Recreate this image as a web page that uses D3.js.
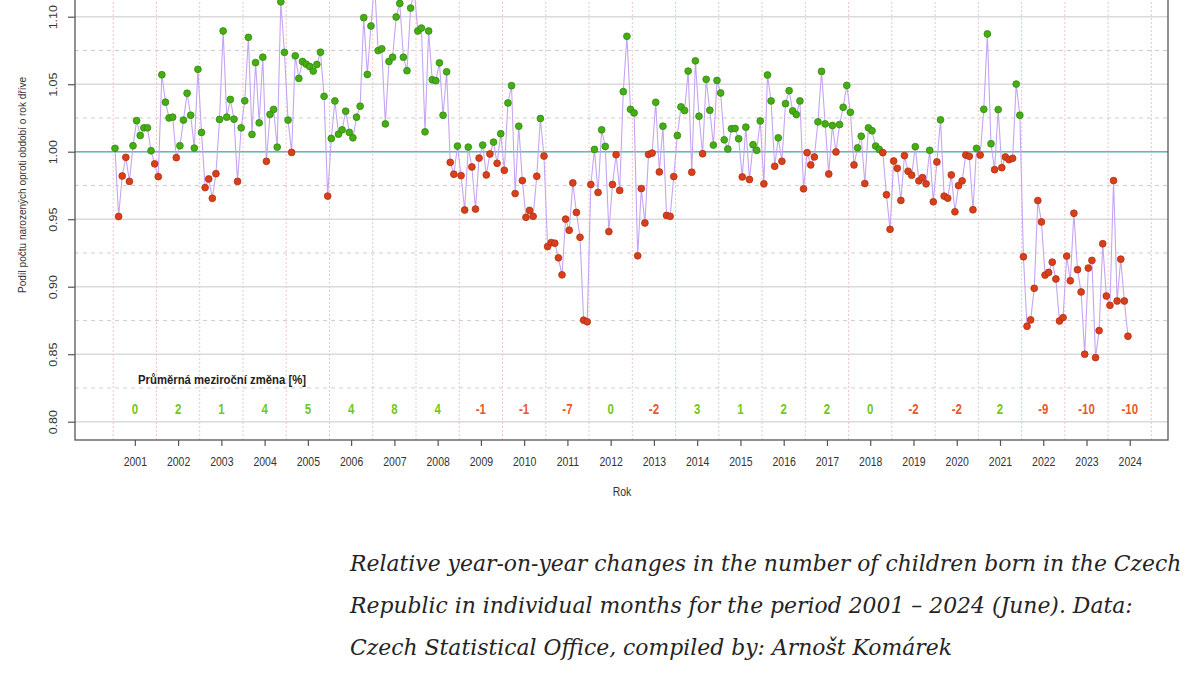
<!DOCTYPE html>
<html>
<head>
<meta charset="utf-8">
<script src="https://cdn.jsdelivr.net/npm/d3@7"></script>
<style>
  body { margin: 0; background: #fff; }
</style>
</head>
<body>
<div id="chart"></div>
<script>
// monthly ratio of births vs. same month a year earlier, Jan 2001 - Jun 2024
var startYear = 2001;
var years = d3.range(2001, 2025);
var ratio = [
  1.0025, 0.952, 0.982, 0.9958, 0.978, 1.0044, 1.023, 1.012, 1.0177, 1.0177, 1.0007, 0.991,    // 2001
  0.9815, 1.057, 1.0367, 1.025, 1.0256, 0.9956, 1.0044, 1.0234, 1.0433, 1.027, 1.0027, 1.061,  // 2002
  1.0143, 0.9734, 0.9798, 0.9655, 0.9837, 1.0239, 1.0894, 1.0256, 1.0387, 1.0241, 0.978, 1.0177, // 2003
  1.0377, 1.0847, 1.0128, 1.066, 1.0214, 1.070, 0.9929, 1.0276, 1.0313, 1.0034, 1.111, 1.0736, // 2004
  1.0234, 0.9995, 1.0710, 1.0543, 1.0668, 1.0649, 1.0631, 1.0597, 1.0646, 1.0737, 1.0410, 0.9671, // 2005
  1.0098, 1.0376, 1.0130, 1.0162, 1.0300, 1.0143, 1.0103, 1.0256, 1.0337, 1.0993, 1.0572, 1.0931, // 2006
  1.125, 1.0749, 1.0762, 1.0206, 1.0668, 1.0700, 1.0998, 1.1098, 1.0700, 1.0600, 1.1064, 1.12,  // 2007
  1.0894, 1.0916, 1.0147, 1.0894, 1.0533, 1.0526, 1.0658, 1.0270, 1.0592, 0.9921, 0.9833, 1.0042, // 2008
  0.9823, 0.9568, 1.0034, 0.9887, 0.9575, 0.9953, 1.0049, 0.9828, 0.9983, 1.0071, 0.9914, 1.0133, // 2009
  0.9862, 1.0361, 1.0489, 0.9690, 1.0189, 0.9786, 0.9514, 0.9565, 0.9521, 0.9818, 1.0246, 0.9968, // 2010
  0.9297, 0.9327, 0.9322, 0.9214, 0.9088, 0.9501, 0.9418, 0.9769, 0.9550, 0.9366, 0.8752, 0.8740, // 2011
  0.9757, 1.0017, 0.9698, 1.0162, 1.0039, 0.9408, 0.9757, 0.9978, 0.9713, 1.0445, 1.0855, 1.0314, // 2012
  1.0287, 0.9229, 0.9727, 0.9472, 0.9980, 0.9990, 1.0366, 0.9850, 1.0189, 0.9528, 0.9521, 0.9816, // 2013
  1.0120, 1.0332, 1.0305, 1.0597, 0.9848, 1.0673, 1.0263, 0.9985, 1.0536, 1.0307, 1.0049, 1.0528, // 2014
  1.0435, 1.0088, 1.0020, 1.0170, 1.0172, 1.0096, 0.9813, 1.0182, 0.9794, 1.0052, 1.0010, 1.0228, // 2015
  0.9762, 1.0568, 1.0376, 0.9892, 1.0103, 0.9929, 1.0356, 1.0452, 1.0302, 1.0275, 1.0376, 0.9725, // 2016
  0.9993, 0.9902, 0.9961, 1.0221, 1.0595, 1.0206, 0.9835, 1.0194, 0.9998, 1.0201, 1.0329, 1.0491, // 2017
  1.0292, 0.9902, 1.0029, 1.0115, 0.9764, 1.0177, 1.0155, 1.0042, 1.0017, 0.9993, 0.9681, 0.9425, // 2018
  0.9931, 0.9877, 0.9639, 0.9971, 0.9855, 0.9826, 1.0037, 0.9784, 0.9808, 0.9762, 1.0010, 0.9629, // 2019
  0.9924, 1.0236, 0.9671, 0.9656, 0.9828, 0.9555, 0.9749, 0.9784, 0.9975, 0.9966, 0.9570, 1.0025, // 2020
  0.9975, 1.0314, 1.0872, 1.0059, 0.9867, 1.0312, 0.9882, 0.9961, 0.9941, 0.9951, 1.0501, 1.0270, // 2021
  0.9222, 0.8707, 0.8754, 0.8988, 0.9638, 0.9480, 0.9086, 0.9106, 0.9182, 0.9057, 0.8746, 0.8771, // 2022
  0.9227, 0.9044, 0.9544, 0.9126, 0.8961, 0.8500, 0.9138, 0.9195, 0.8475, 0.8675, 0.9318, 0.8931, // 2023
  0.8862, 0.9786, 0.8894, 0.9204, 0.8894, 0.8633                                                  // 2024
];
var annualChange = [0, 2, 1, 4, 5, 4, 8, 4, -1, -1, -7, 0, -2, 3, 1, 2, 2, 0, -2, -2, 2, -9, -10, -10];
var yTicks = [0.80, 0.85, 0.90, 0.95, 1.00, 1.05, 1.10];
var captionLines = [
  'Relative year-on-year changes in the number of children born in the Czech',
  'Republic in individual months for the period 2001 \u2013 2024 (June). Data:',
  'Czech Statistical Office, compiled by: Arno\u0161t Kom\u00e1rek'
];

var w = 1196;
var h = 675;
// note: "top" is taken by window.top, so the plot edges get their own names
var plotL = 75, plotR = 1168, plotB = 440, plotT = -30;
var font = '"Liberation Sans", Arial, sans-serif';

var svg = d3.select('#chart').append('svg')
    .attr('width', w)
    .attr('height', h)
    .style('background', '#fff');

var x = d3.scaleLinear().domain([2001, 2025]).range([115, 1153.2]);
var y = d3.scaleLinear().domain([0.80, 1.10]).range([421.7, 16.7]);

var data = ratio.map(function (v, i) {
  return { t: startYear + i / 12, v: v };
});

// horizontal grid: solid every 0.05, dashed in between (k * 0.025)
var gridVals = d3.range(31, 46).filter(function (k) {
  var py = y(k * 0.025);
  return py < plotB && py > plotT;
});
svg.append('g').selectAll('line')
    .data(gridVals)
    .enter()
    .append('line')
    .attr('x1', plotL)
    .attr('x2', plotR)
    .attr('y1', function (k) { return y(k * 0.025); })
    .attr('y2', function (k) { return y(k * 0.025); })
    .attr('stroke', function (k) { return k % 2 === 0 ? '#dadada' : '#cdcdcd'; })
    .attr('stroke-width', function (k) { return k % 2 === 0 ? 1.4 : 1; })
    .attr('stroke-dasharray', function (k) { return k % 2 === 0 ? null : '4,4'; });

// year boundaries
svg.append('g').selectAll('line')
    .data(d3.range(2001, 2026))
    .enter()
    .append('line')
    .attr('x1', function (d) { return x(d - 1 / 24); })
    .attr('x2', function (d) { return x(d - 1 / 24); })
    .attr('y1', plotT)
    .attr('y2', plotB)
    .attr('stroke', '#f3c4c4')
    .attr('stroke-width', 1)
    .attr('stroke-dasharray', '2,2');

// reference line at 1
svg.append('line')
    .attr('x1', plotL)
    .attr('x2', plotR)
    .attr('y1', y(1))
    .attr('y2', y(1))
    .attr('stroke', '#62b8c2')
    .attr('stroke-width', 1.6);

// plot frame
svg.append('rect')
    .attr('x', plotL)
    .attr('y', plotT)
    .attr('width', plotR - plotL)
    .attr('height', plotB - plotT)
    .attr('fill', 'none')
    .attr('stroke', '#555')
    .attr('stroke-width', 1.3);

var line = d3.line()
    .x(function (d) { return x(d.t); })
    .y(function (d) { return y(d.v); });

svg.append('path')
    .datum(data)
    .attr('d', line)
    .attr('fill', 'none')
    .attr('stroke', '#c6a5f3')
    .attr('stroke-width', 1.1);

svg.append('g').selectAll('circle')
    .data(data)
    .enter()
    .append('circle')
    .attr('cx', function (d) { return x(d.t); })
    .attr('cy', function (d) { return y(d.v); })
    .attr('r', 3.4)
    .attr('fill', function (d) { return d.v > 1 ? '#46ad14' : '#d8401c'; })
    .attr('stroke', function (d) { return d.v > 1 ? '#2f8c0a' : '#b32f10'; })
    .attr('stroke-width', 0.8);

// x axis
var xAxis = d3.axisBottom(x)
    .tickValues(years.map(function (yr) { return yr + 5.5 / 12; }))
    .tickFormat(function (d) { return Math.floor(d); })
    .tickSize(6)
    .tickPadding(11);

var gx = svg.append('g')
    .attr('transform', 'translate(0,' + plotB + ')')
    .call(xAxis);
gx.select('.domain').remove();
gx.selectAll('line').attr('stroke', '#555').attr('stroke-width', 1.2);
gx.selectAll('text')
    .attr('font-family', font)
    .attr('font-size', 12.5)
    .attr('fill', '#333')
    .attr('transform', 'scale(0.84,1)');

// y axis
var yAxis = d3.axisLeft(y)
    .tickValues(yTicks)
    .tickFormat(d3.format('.2f'))
    .tickSize(7);

var gy = svg.append('g')
    .attr('transform', 'translate(' + plotL + ',0)')
    .call(yAxis);
gy.select('.domain').remove();
gy.selectAll('line').attr('stroke', '#555').attr('stroke-width', 1.2);
gy.selectAll('text')
    .attr('font-family', font)
    .attr('font-size', 12.5)
    .attr('fill', '#333')
    .attr('x', 0)
    .attr('y', 0)
    .attr('dy', '0.35em')
    .attr('text-anchor', 'middle')
    .attr('transform', 'translate(-22,0) rotate(-90) scale(1,0.84)');

svg.append('text')
    .attr('transform', 'translate(22,185) rotate(-90)')
    .attr('text-anchor', 'middle')
    .attr('dy', '0.35em')
    .attr('font-family', font)
    .attr('font-size', 10.5)
    .attr('fill', '#333')
    .attr('textLength', 216)
    .attr('lengthAdjust', 'spacingAndGlyphs')
    .text('Podíl počtu narozených oproti období o rok dříve');

svg.append('text')
    .attr('transform', 'translate(622,496) scale(0.84,1)')
    .attr('text-anchor', 'middle')
    .attr('font-family', font)
    .attr('font-size', 12.5)
    .attr('fill', '#333')
    .text('Rok');

// yearly average change
svg.append('text')
    .attr('transform', 'translate(138,384) scale(0.84,1)')
    .attr('font-family', font)
    .attr('font-weight', 'bold')
    .attr('font-size', 13.5)
    .attr('fill', '#222')
    .text('Průměrná meziroční změna [%]');

svg.append('g').selectAll('text')
    .data(annualChange)
    .enter()
    .append('text')
    .attr('transform', function (d, i) {
      return 'translate(' + x(years[i] + 5.5 / 12) + ',414) scale(0.82,1)';
    })
    .attr('text-anchor', 'middle')
    .attr('font-family', font)
    .attr('font-weight', 'bold')
    .attr('font-size', 14)
    .attr('fill', function (d) { return d >= 0 ? '#72c81c' : '#e9582b'; })
    .text(function (d) { return d; });

// caption: one font size, chosen so the first line ends where it does in the source
var cap = svg.append('g').selectAll('text')
    .data(captionLines)
    .enter()
    .append('text')
    .attr('x', 350)
    .attr('y', function (d, i) { return 571 + i * 42; })
    .attr('font-family', '"DejaVu Serif", serif')
    .attr('font-style', 'italic')
    .attr('font-size', 24)
    .attr('fill', '#242424')
    .text(function (d) { return d; });

var natural = cap.nodes()[0].getComputedTextLength();
cap.attr('font-size', 24 * 832 / natural);
</script>
</body>
</html>
